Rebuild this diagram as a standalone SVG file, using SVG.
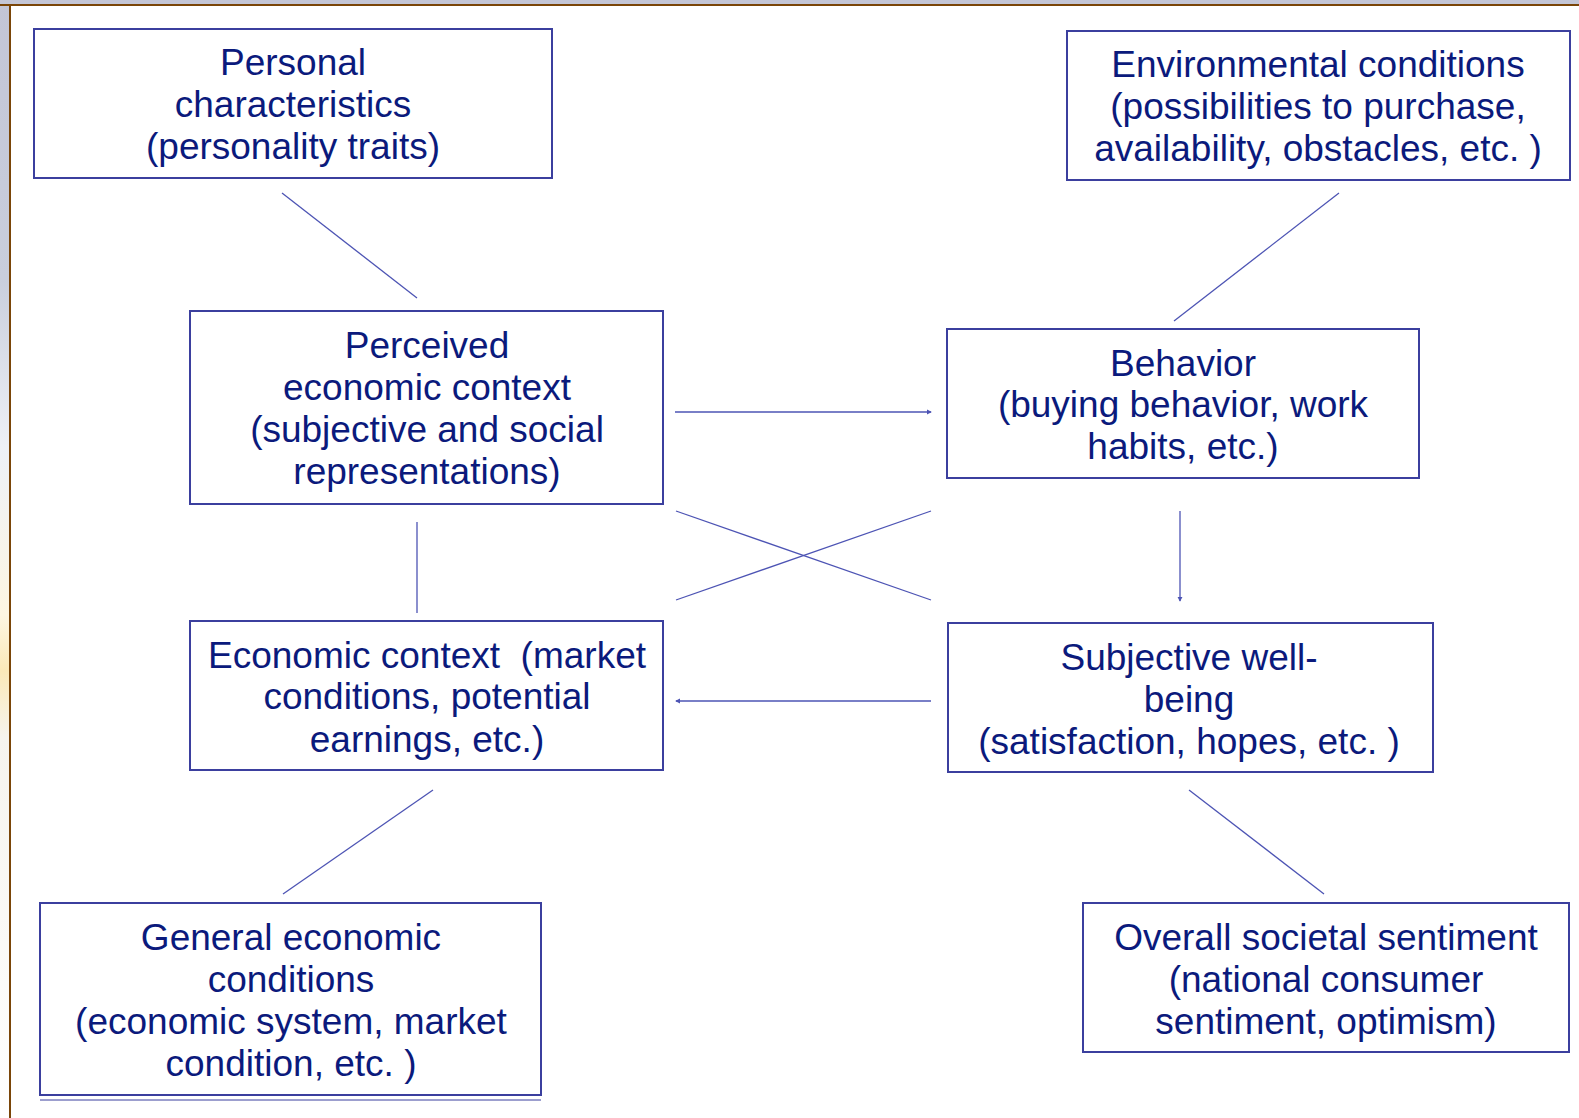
<svg xmlns="http://www.w3.org/2000/svg" width="1579" height="1118" viewBox="0 0 1579 1118">
  <style>
    .box rect { fill: #ffffff; stroke: #3b3f9e; stroke-width: 2; }
    .box text { font-family: "Liberation Sans", Arial, sans-serif; font-size: 37px; fill: #0b1a7c; text-anchor: middle; }
    .edge { stroke: #4d54b4; stroke-width: 1.3; fill: none; }
  </style>
  <defs>
    <linearGradient id="sideBg" x1="0" y1="0" x2="0" y2="1">
      <stop offset="0" stop-color="#c3c5d6"/>
      <stop offset="0.25" stop-color="#c9cedc"/>
      <stop offset="0.4" stop-color="#eef1f6"/>
      <stop offset="0.55" stop-color="#fdf6e2"/>
      <stop offset="0.6" stop-color="#fbe9b8"/>
      <stop offset="0.66" stop-color="#f6f4ee"/>
      <stop offset="1" stop-color="#ffffff"/>
    </linearGradient>
    <marker id="tip" viewBox="0 0 6 6" refX="5" refY="3" markerWidth="4" markerHeight="4" orient="auto">
      <path d="M0,0 L6,3 L0,6 Z" fill="#4d54b4"/>
    </marker>
  </defs>

  <!-- slide frame -->
  <rect x="0" y="0" width="1579" height="1118" fill="#ffffff"/>
  <rect x="0" y="0" width="9" height="1118" fill="url(#sideBg)"/>
  <rect x="0" y="0" width="1579" height="4.5" fill="#c4c6d6"/>
  <rect x="0" y="4" width="1579" height="2" fill="#7a4508"/>
  <rect x="9" y="4" width="2" height="1114" fill="#7a4508"/>

  <!-- connectors -->
  <g id="connectors">
    <line class="edge" x1="417" y1="298" x2="282" y2="193"/>
    <line class="edge" x1="1174" y1="321" x2="1339" y2="193"/>
    <line class="edge" x1="675" y1="412" x2="931" y2="412" marker-end="url(#tip)"/>
    <line class="edge" x1="676" y1="511" x2="931" y2="600"/>
    <line class="edge" x1="931" y1="511" x2="676" y2="600"/>
    <line class="edge" x1="417" y1="613" x2="417" y2="522"/>
    <line class="edge" x1="1180" y1="511" x2="1180" y2="601" marker-end="url(#tip)"/>
    <line class="edge" x1="931" y1="701" x2="676" y2="701" marker-end="url(#tip)"/>
    <line class="edge" x1="433" y1="790" x2="283" y2="894"/>
    <line class="edge" x1="1189" y1="790" x2="1324" y2="894"/>
  </g>

  <g id="personal" class="box">
    <rect x="34" y="29" width="518" height="149"/>
    <text x="293" y="74.5">Personal</text>
    <text x="293" y="116.7">characteristics</text>
    <text x="293" y="159">(personality traits)</text>
  </g>

  <g id="environmental" class="box">
    <rect x="1067" y="31" width="503" height="149"/>
    <text x="1318" y="76.5">Environmental conditions</text>
    <text x="1318" y="118.7">(possibilities to purchase,</text>
    <text x="1318" y="161">availability, obstacles, etc. )</text>
  </g>

  <g id="perceived" class="box">
    <rect x="190" y="311" width="473" height="193"/>
    <text x="427" y="357.5">Perceived</text>
    <text x="427" y="399.7">economic context</text>
    <text x="427" y="442">(subjective and social</text>
    <text x="427" y="484.3">representations)</text>
  </g>

  <g id="behavior" class="box">
    <rect x="947" y="329" width="472" height="149"/>
    <text x="1183" y="375.5">Behavior</text>
    <text x="1183" y="416.8">(buying behavior, work</text>
    <text x="1183" y="459">habits, etc.)</text>
  </g>

  <g id="economic-context" class="box">
    <rect x="190" y="621" width="473" height="149"/>
    <text x="427" y="667.6" xml:space="preserve">Economic context  (market</text>
    <text x="427" y="708.8">conditions, potential</text>
    <text x="427" y="752">earnings, etc.)</text>
  </g>

  <g id="wellbeing" class="box">
    <rect x="948" y="623" width="485" height="149"/>
    <text x="1189" y="669.6">Subjective well-</text>
    <text x="1189" y="711.9">being</text>
    <text x="1189" y="754.2">(satisfaction, hopes, etc. )</text>
  </g>

  <g id="general-conditions" class="box">
    <line x1="40" y1="1100" x2="541" y2="1100" stroke="#3b3f9e" stroke-width="1"/>
    <rect x="40" y="903" width="501" height="192"/>
    <text x="291" y="949.5">General economic</text>
    <text x="291" y="991.8">conditions</text>
    <text x="291" y="1034">(economic system, market</text>
    <text x="291" y="1076.4">condition, etc. )</text>
  </g>

  <g id="societal-sentiment" class="box">
    <rect x="1083" y="903" width="486" height="149"/>
    <text x="1326" y="949.5">Overall societal sentiment</text>
    <text x="1326" y="991.8">(national consumer</text>
    <text x="1326" y="1034">sentiment, optimism)</text>
  </g>
</svg>
